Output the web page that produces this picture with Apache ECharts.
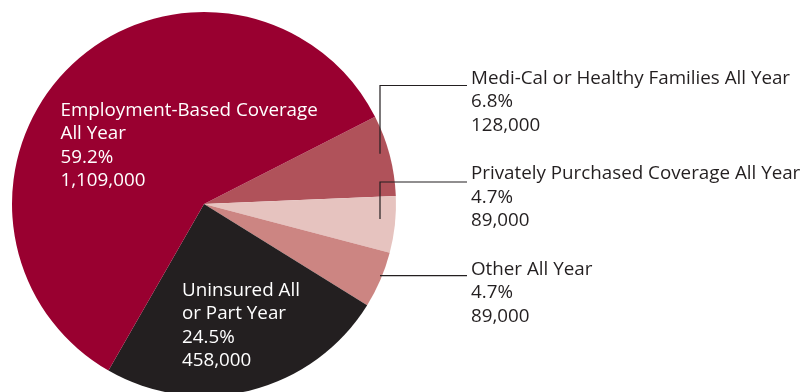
<!DOCTYPE html>
<html>
<head>
<meta charset="utf-8">
<script src="https://cdn.jsdelivr.net/npm/echarts@6/dist/echarts.min.js"></script>
<style>
  html, body { margin: 0; padding: 0; background: #ffffff; }
  #chart { width: 803px; height: 392px; }
</style>
</head>
<body>
<div id="chart"></div>
<script>
// Health coverage of the population, by source
const categories = [
  'Medi-Cal or Healthy Families All Year',
  'Privately Purchased Coverage All Year',
  'Other All Year',
  'Uninsured All\nor Part Year',
  'Employment-Based Coverage\nAll Year'
];
const people = [128000, 89000, 89000, 458000, 1109000];
const percents = ['6.8%', '4.7%', '4.7%', '24.5%', '59.2%'];
const sliceColors = ['#b0525a', '#e6c3bf', '#cc8582', '#231f20', '#990030'];

// Pie geometry
const CX = 204, CY = 204, R = 192, START_ANGLE = 27;
const FONT = '"Open Sans", sans-serif';
const FONT_SIZE = 18.8, LINE_H = 23.4;
const STEM_X = CX + 176;           // vertical part of the leader lines
const TEXT_X = CX + 267;           // left edge of the right-hand column

// Where each label block sits; "rule" is the y of the leader line for outside labels
const placement = [
  { x: TEXT_X, y: 66.8,  rule: 85.5, outside: true },
  { x: TEXT_X, y: 162.3, rule: 182,  outside: true },
  { x: TEXT_X, y: 257.8, rule: 275.7, outside: true },
  { x: CX - 22,  y: 279, outside: false },
  { x: CX - 143.5, y: 99, outside: false }
];

// Mid angle of every slice (degrees, counter-clockwise from 3 o'clock)
const total = people.reduce((a, b) => a + b, 0);
const midAngles = [];
(function () {
  let a = START_ANGLE;
  people.forEach(v => {
    const span = v / total * 360;
    midAngles.push(a - span / 2);
    a -= span;
  });
})();

const chart = echarts.init(document.getElementById('chart'), null, { renderer: 'canvas' });

const basePie = {
  type: 'pie',
  center: [CX, CY],
  radius: [0, R],
  startAngle: START_ANGLE,
  clockwise: true,
  avoidLabelOverlap: false,
  silent: true
};

// Filled slices
const sliceData = categories.map((name, i) => ({
  name: name,
  value: people[i],
  itemStyle: { color: sliceColors[i] }
}));

// Same slices, unfilled, carrying the labels and leader lines on top
const labelData = categories.map((name, i) => ({
  name: name,
  value: people[i],
  itemStyle: { color: 'rgba(0,0,0,0)' },
  label: {
    position: placement[i].outside ? 'outside' : 'inside',
    color: placement[i].outside ? '#231f20' : '#ffffff'
  },
  labelLine: { show: placement[i].outside }
}));

chart.setOption({
  animation: false,
  backgroundColor: '#ffffff',
  series: [
    Object.assign({}, basePie, {
      z: 1,
      data: sliceData,
      itemStyle: { borderWidth: 0 },
      label: { show: false },
      labelLine: { show: false }
    }),
    Object.assign({}, basePie, {
      z: 2,
      data: labelData,
      itemStyle: { borderWidth: 0 },
      label: {
        show: true,
        fontFamily: FONT,
        fontSize: FONT_SIZE,
        lineHeight: LINE_H,
        align: 'left',
        formatter: function (p) {
          const i = p.dataIndex;
          return categories[i] + '\n' + percents[i] + '\n' + people[i].toLocaleString('en-US');
        }
      },
      labelLine: {
        lineStyle: { color: '#231f20', width: 1.2 }
      },
      labelLayout: function (params) {
        const i = params.dataIndex;
        const p = placement[i];
        const out = { x: p.x, y: p.y, align: 'left', verticalAlign: 'top' };
        if (p.outside) {
          // point on the slice's mid ray at the stem column, stopped a little short
          const rad = midAngles[i] * Math.PI / 180;
          const yRay = CY - (STEM_X - CX) * Math.tan(rad);
          const shift = Math.max(-4, Math.min(4, p.rule - yRay));
          out.labelLinePoints = [
            [STEM_X, yRay + shift],
            [STEM_X, p.rule],
            [p.x - 4, p.rule]
          ];
        }
        return out;
      }
    })
  ]
});
</script>
</body>
</html>
